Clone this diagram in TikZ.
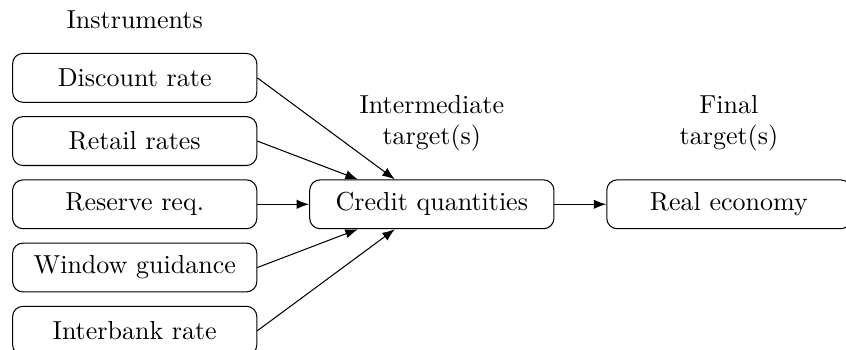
\documentclass[tikz,border=0pt]{standalone}
\usepackage{tikz}
\usetikzlibrary{arrows.meta, positioning, calc}

\begin{document}
\begin{tikzpicture}[
  node distance=0.18cm and 0.7cm,
  flowbox/.style={rectangle, rounded corners=4pt, draw, minimum width=3.3cm, minimum height=0.66cm},
  flowarrow/.style={-{Latex}}
]
  \useasboundingbox (-1.82,-1.96) rectangle (9.61,2.76);
  % instruments
  \node[flowbox] (reserve) {Reserve req.};
  \node[flowbox, above=of reserve] (retail) {Retail rates};
  \node[flowbox, above=of retail] (discount) {Discount rate};
  \node[flowbox, below=of reserve] (window) {Window guidance};
  \node[flowbox, below=of window] (interbank) {Interbank rate};
  \node[above=0.2cm of discount] (instr) {Instruments};
  % targets
  \node[flowbox, right=0.7cm of reserve] (credit) {Credit quantities};
  \node[flowbox, right=0.7cm of credit] (real) {Real economy};
  \node[align=center, above=0.26cm of credit] (inter) {Intermediate\\target(s)};
  \node[align=center, above=0.26cm of real] (final) {Final\\target(s)};
  % arrows
  \draw[flowarrow] (discount.east) -- ($(credit.north)+(-0.5,0)$);
  \draw[flowarrow] (retail.east) -- ($(credit.north)+(-1,0)$);
  \draw[flowarrow] (reserve) -- (credit);
  \draw[flowarrow] (window.east) -- ($(credit.south)+(-1,0)$);
  \draw[flowarrow] (interbank.east) -- ($(credit.south)+(-0.5,0)$);
  \draw[flowarrow] (credit) -- (real);
\end{tikzpicture}
\end{document}
